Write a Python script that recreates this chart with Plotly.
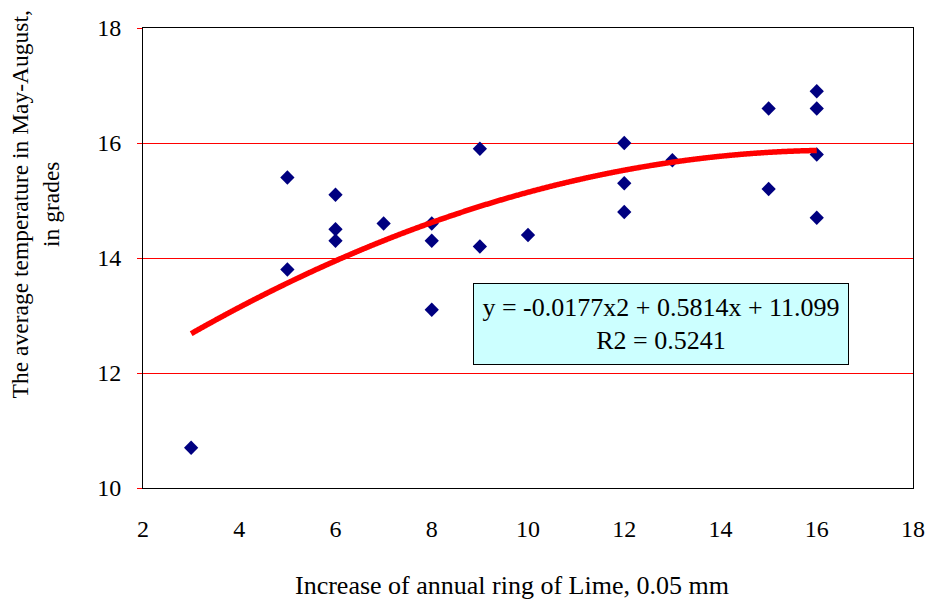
import numpy as np
import plotly.graph_objects as go

ring_increase = [3, 5, 5, 6, 6, 6, 7, 8, 8, 8, 9, 9, 10, 12, 12, 12, 13, 15, 15, 16, 16, 16, 16]
temperature = [10.7, 15.4, 13.8, 15.1, 14.5, 14.3, 14.6, 14.6, 14.3, 13.1, 15.9, 14.2, 14.4,
               16.0, 15.3, 14.8, 15.7, 16.6, 15.2, 16.9, 16.6, 15.8, 14.7]

# trendline coefficients as shown in the chart's label
coef_a, coef_b, coef_c = -0.0177, 0.5814, 11.099
x_ticks = [2, 4, 6, 8, 10, 12, 14, 16, 18]
y_ticks = [10, 12, 14, 16, 18]

xt = np.linspace(min(ring_increase), max(ring_increase), 400)
yt = coef_a * xt**2 + coef_b * xt + coef_c

FONT = "Liberation Serif, Times New Roman, serif"

fig = go.Figure()
fig.add_trace(go.Scatter(x=ring_increase, y=temperature, mode="markers",
                         marker=dict(symbol="diamond", size=11, color="#000080"),
                         showlegend=False))
fig.add_trace(go.Scatter(x=xt, y=yt, mode="lines",
                         line=dict(color="#FF0000", width=5.5, shape="spline"),
                         showlegend=False))

fig.update_layout(
    width=929, height=601,
    margin=dict(l=143, r=16, t=28, b=113),
    paper_bgcolor="white", plot_bgcolor="white",
    font=dict(family=FONT, size=24, color="black"),
    xaxis=dict(range=[2, 18], tickvals=x_ticks, showgrid=False, zeroline=False,
               automargin=False,
               showline=True, linecolor="black", linewidth=1, mirror=True,
               ticks="", ticklabelstandoff=19, tickfont=dict(family=FONT, size=24)),
    yaxis=dict(range=[10, 18], tickvals=y_ticks, showgrid=True, gridcolor="#FF0000",
               gridwidth=1, zeroline=False, automargin=False,
               showline=True, linecolor="black", linewidth=1, mirror=True,
               ticks="outside", ticklen=5, tickcolor="#FF0000",
               ticklabelstandoff=11, tickfont=dict(family=FONT, size=24)),
    annotations=[
        dict(text="Increase of annual ring of Lime, 0.05 mm", xref="paper", yref="paper",
             x=0.479, y=-0.211, xanchor="center", yanchor="middle", showarrow=False,
             font=dict(family=FONT, size=26)),
        dict(text="The average temperature in May-August,<br>in grades", xref="paper", yref="paper",
             x=-0.140, y=0.617, xanchor="center", yanchor="middle", showarrow=False,
             textangle=-90, font=dict(family=FONT, size=23.5)),
        dict(text="y = -0.0177x2 + 0.5814x + 11.099<br>R2 = 0.5241", xref="paper", yref="paper",
             x=0.6727, y=0.3565, xanchor="center", yanchor="middle", showarrow=False,
             align="center", bgcolor="#CCFFFF", bordercolor="black", borderwidth=1,
             borderpad=4, width=366, height=72, font=dict(family=FONT, size=26)),
    ],
)

fig.write_html("out.html", config={"displayModeBar": False},
               post_script="document.body.style.margin='0';")
